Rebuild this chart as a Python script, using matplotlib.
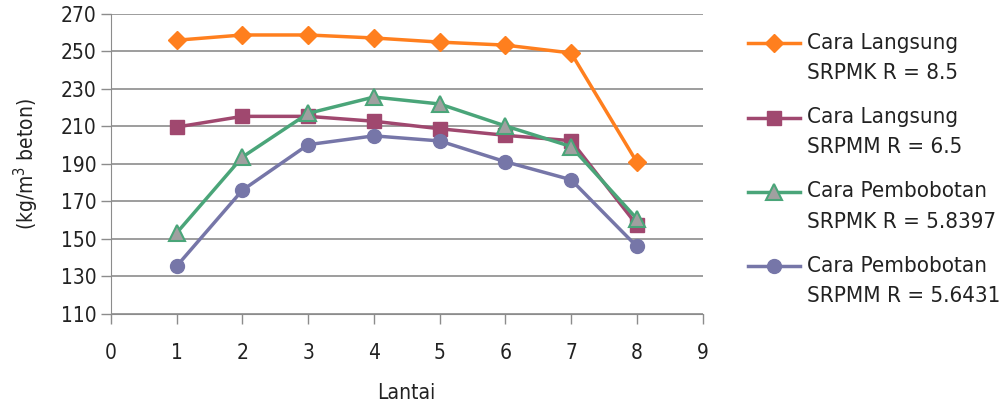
import matplotlib.pyplot as plt
from matplotlib.legend_handler import HandlerLine2D

plt.rcParams['font.family'] = ['DejaVu Sans']
plt.rcParams['font.stretch'] = 'condensed'

lantai = [1, 2, 3, 4, 5, 6, 7, 8]
langsung_srpmk = [256, 258.8, 258.8, 257.2, 255, 253.4, 249.2, 191]
langsung_srpmm = [209.7, 215.4, 215.4, 212.8, 208.8, 205.3, 202.4, 157.5]
pembobotan_srpmk = [153.2, 193.7, 217, 225.7, 222, 210.3, 199.3, 160.8]
pembobotan_srpmm = [135.5, 176, 200.3, 205, 202.3, 191.2, 181.6, 146]

labels = ['Cara Langsung\nSRPMK R = 8.5',
          'Cara Langsung\nSRPMM R = 6.5',
          'Cara Pembobotan\nSRPMK R = 5.8397',
          'Cara Pembobotan\nSRPMM R = 5.6431']

LINESP = 1.64


# legend handle sits on the first text line, like the original
class TopLine(HandlerLine2D):
    def create_artists(self, legend, orig_handle, xdescent, ydescent, width, height, fontsize, trans):
        shift = LINESP * fontsize * 0.41
        return super().create_artists(legend, orig_handle, xdescent, ydescent - 2 * shift,
                                      width, height, fontsize, trans)


fig = plt.figure(figsize=(10.08, 4.04), dpi=100)
ax = fig.add_axes([0.110, 0.2228, 0.587, 0.7426])

ax.plot(lantai, langsung_srpmk, color='#FF7F1E', lw=2.5, marker='D', ms=9, label=labels[0])
ax.plot(lantai, langsung_srpmm, color='#A0486F', lw=2.5, marker='s', ms=10, label=labels[1])
ax.plot(lantai, pembobotan_srpmk, color='#4AA579', lw=2.5, marker='^', ms=11,
        mfc='#A0A0A0', mec='#4AA579', mew=1.5, label=labels[2])
ax.plot(lantai, pembobotan_srpmm, color='#7676A8', lw=2.5, marker='o', ms=10, label=labels[3])

ax.set_xlim(0, 9)
ax.set_ylim(110, 270)
ax.set_xticks(range(0, 10))
ax.set_yticks(range(110, 271, 20))
ax.yaxis.grid(True, color='#8C8C8C', lw=1.2)
ax.set_axisbelow(True)
for s in ['top', 'right']:
    ax.spines[s].set_visible(False)
for s in ['left', 'bottom']:
    ax.spines[s].set_color('#8C8C8C')
ax.tick_params(axis='both', colors='#8C8C8C', labelcolor='#222222', labelsize=15, length=7, width=1)
ax.tick_params(axis='x', pad=14)

ax.set_xlabel('Lantai', fontsize=15, color='#222222', labelpad=14)
ax.set_ylabel('(kg/m$^3$ beton)', fontsize=15, color='#222222', labelpad=14)

leg = ax.legend(loc='upper left', bbox_to_anchor=(748 / 1008, 1 - 33 / 404),
                bbox_transform=fig.transFigure, frameon=False, fontsize=16,
                handlelength=2.35, handletextpad=0.3, labelspacing=1.08,
                borderaxespad=0, borderpad=0, handler_map={plt.Line2D: TopLine()})
for t in leg.get_texts():
    t.set_linespacing(LINESP)
    t.set_color('#222222')

fig.savefig('out.png', dpi=100)
